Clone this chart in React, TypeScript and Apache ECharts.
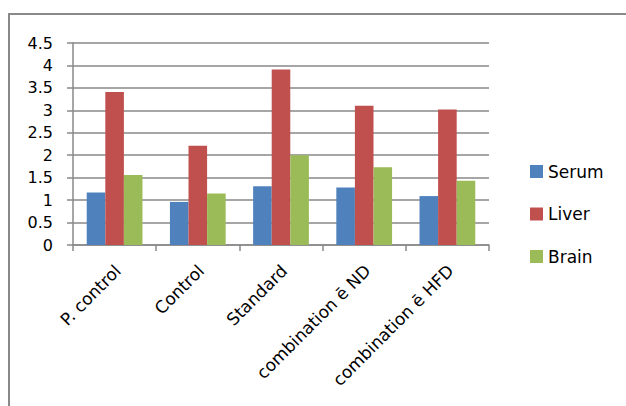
import React, { useEffect, useRef } from "react";
import * as echarts from "echarts";

// Groups on the category axis
const categories = ["P. control", "Control", "Standard", "combination ē ND", "combination ē HFD"];

// Measured levels per tissue
const serum = [1.17, 0.96, 1.31, 1.28, 1.09];
const liver = [3.41, 2.21, 3.91, 3.1, 3.02];
const brain = [1.56, 1.15, 2.0, 1.73, 1.43];

const yTicks = { min: 0, max: 4.5, interval: 0.5 };

const FONT = "DejaVu Sans";
const GRAY = "#898989";

export default function App() {
  const ref = useRef<HTMLDivElement>(null);

  useEffect(() => {
    if (!ref.current) return;
    const chart = echarts.init(ref.current, null, { renderer: "svg" });
    chart.setOption({
      animation: false,
      backgroundColor: "#ffffff",
      textStyle: { fontFamily: FONT, color: "#000" },
      color: ["#4F81BD", "#C0504D", "#9BBB59"],
      graphic: [
        {
          type: "rect",
          shape: { x: 9, y: 14, width: 720, height: 500 },
          style: { fill: "none", stroke: GRAY, lineWidth: 2 },
          silent: true,
        },
      ],
      grid: { left: 73, top: 43, width: 416, height: 202, containLabel: false },
      legend: {
        orient: "vertical",
        left: 530,
        top: 163,
        padding: 0,
        itemWidth: 13,
        itemHeight: 13,
        itemGap: 25.5,
        icon: "rect",
        textStyle: { fontFamily: FONT, fontSize: 17, color: "#000", lineHeight: 17 },
        data: ["Serum", "Liver", "Brain"],
      },
      xAxis: {
        type: "category",
        data: categories,
        boundaryGap: true,
        axisLine: { lineStyle: { color: GRAY, width: 1.5 } },
        axisTick: { show: true, length: 6, lineStyle: { color: GRAY, width: 1.5 } },
        axisLabel: {
          rotate: 45,
          interval: 0,
          margin: 14,
          align: "right",
          verticalAlign: "top",
          padding: [0, 4, 0, 0],
          fontSize: 17,
          fontFamily: FONT,
          color: "#000",
        },
      },
      yAxis: {
        type: "value",
        min: yTicks.min,
        max: yTicks.max,
        interval: yTicks.interval,
        axisLine: { show: true, lineStyle: { color: GRAY, width: 1.5 } },
        axisTick: { show: true, length: 6, lineStyle: { color: GRAY, width: 1.5 } },
        splitLine: { show: true, lineStyle: { color: GRAY, width: 1.5 } },
        axisLabel: { margin: 20, fontSize: 16, fontFamily: FONT, color: "#000" },
      },
      series: [
        { name: "Serum", type: "bar", data: serum, barGap: "0%", barCategoryGap: "33%" },
        { name: "Liver", type: "bar", data: liver, barGap: "0%", barCategoryGap: "33%" },
        { name: "Brain", type: "bar", data: brain, barGap: "0%", barCategoryGap: "33%" },
      ],
    });
    return () => chart.dispose();
  }, []);

  return (
    <div
      ref={ref}
      style={{ position: "fixed", left: 0, top: 0, width: 626, height: 406 }}
    />
  );
}
